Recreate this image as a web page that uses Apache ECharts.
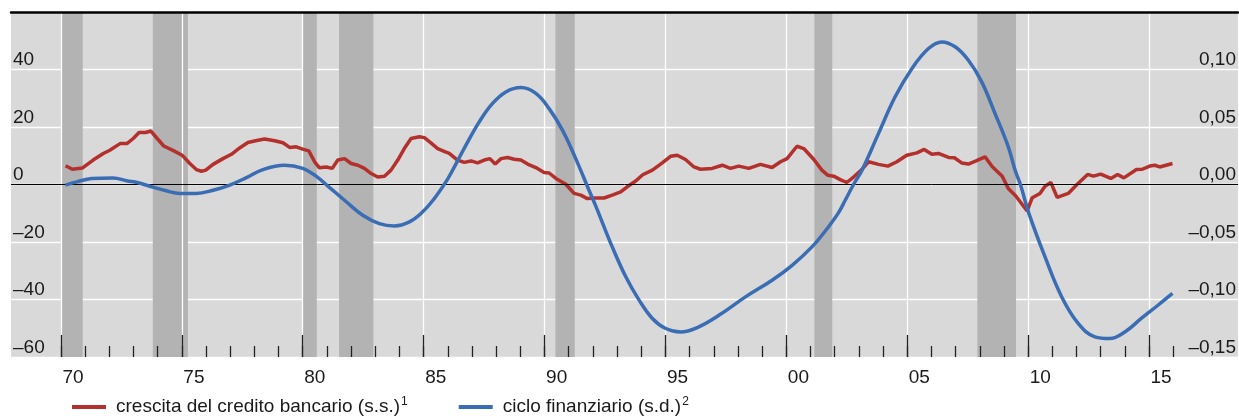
<!DOCTYPE html>
<html>
<head>
<meta charset="utf-8">
<script src="https://cdn.jsdelivr.net/npm/echarts@6/dist/echarts.min.js"></script>
<style>
  html, body { margin: 0; padding: 0; background: #ffffff; }
  #chart { width: 1239px; height: 416px; }
</style>
</head>
<body>
<div id="chart"></div>
<script>
// Bank credit growth (left scale, per cent) – decimal year / value
const creditYears = [
  1970.19, 1970.47, 1970.88, 1971.33, 1971.75, 1972.02, 1972.46, 1972.74, 1972.99, 1973.23,
  1973.50, 1973.72, 1973.98, 1974.25, 1974.67, 1975.01, 1975.33, 1975.60, 1975.81, 1975.99,
  1976.29, 1976.70, 1977.05, 1977.39, 1977.73, 1978.10, 1978.42, 1978.84, 1979.18, 1979.46,
  1979.73, 1980.00, 1980.25, 1980.49, 1980.69, 1980.97, 1981.22, 1981.45, 1981.73, 1982.00,
  1982.28, 1982.55, 1982.83, 1983.10, 1983.38, 1983.65, 1983.93, 1984.20, 1984.48, 1984.82,
  1985.03, 1985.30, 1985.58, 1985.92, 1986.06, 1986.40, 1986.68, 1986.96, 1987.23, 1987.51,
  1987.74, 1987.96, 1988.20, 1988.47, 1988.75, 1989.02, 1989.30, 1989.64, 1989.98, 1990.19,
  1990.47, 1990.88, 1991.22, 1991.50, 1991.77, 1992.12, 1992.46, 1992.80, 1993.15, 1993.42,
  1993.77, 1994.06, 1994.46, 1994.87, 1995.21, 1995.49, 1995.83, 1996.18, 1996.45, 1996.93,
  1997.35, 1997.69, 1998.03, 1998.45, 1998.93, 1999.41, 1999.76, 2000.03, 2000.44, 2000.72,
  2001.13, 2001.47, 2001.72, 2001.96, 2002.23, 2002.50, 2002.78, 2003.10, 2003.40, 2003.81,
  2004.20, 2004.57, 2004.98, 2005.40, 2005.70, 2006.02, 2006.29, 2006.71, 2006.95, 2007.25,
  2007.53, 2007.87, 2008.22, 2008.52, 2008.93, 2009.18, 2009.49, 2009.96, 2010.17, 2010.49,
  2010.70, 2010.94, 2011.20, 2011.66, 2012.00, 2012.46, 2012.70, 2013.00, 2013.42, 2013.70,
  2013.96, 2014.48, 2014.72, 2015.03, 2015.24, 2015.44, 2015.97
];
const creditGrowth = [
  6.5, 5.3, 5.7, 8.5, 10.8, 11.9, 14.3, 14.3, 16.0, 18.1,
  18.1, 18.6, 16.0, 13.4, 11.7, 10.2, 7.3, 5.2, 4.6, 5.0,
  7.0, 9.0, 10.5, 12.7, 14.6, 15.3, 15.8, 15.2, 14.5, 12.9,
  13.1, 12.3, 11.7, 7.9, 5.8, 6.1, 5.6, 8.5, 9.0, 7.3,
  6.7, 5.6, 3.8, 2.6, 2.9, 5.0, 8.5, 12.5, 16.0, 16.6,
  16.3, 14.5, 12.5, 11.3, 10.8, 8.5, 7.7, 8.2, 7.5, 8.5,
  9.0, 7.1, 9.0, 9.4, 8.8, 8.5, 7.1, 5.9, 4.2, 4.0,
  2.1, 0.1, -3.1, -3.7, -4.9, -4.7, -4.7, -3.7, -2.6, -0.8,
  1.2, 3.4, 5.0, 7.5, 9.8, 10.2, 8.7, 6.1, 5.3, 5.6,
  6.7, 5.6, 6.4, 5.6, 7.0, 5.9, 7.9, 9.0, 13.3, 12.5,
  8.8, 5.0, 3.2, 2.9, 1.7, 0.7, 2.6, 5.0, 7.9, 7.0,
  6.4, 7.9, 10.2, 11.0, 12.2, 10.5, 10.8, 9.4, 9.3, 7.5,
  7.1, 8.3, 9.6, 6.2, 2.9, -1.4, -4.0, -9.2, -4.6, -3.1,
  -0.6, 0.7, -4.5, -3.1, -0.2, 3.5, 2.9, 3.6, 2.1, 3.5,
  2.3, 5.2, 5.3, 6.4, 6.7, 6.1, 7.3
];

// Financial cycle (right scale) – decimal year / value
const cycleYears = [
  1970.19, 1970.65, 1971.27, 1972.16, 1972.71, 1973.19, 1973.67, 1974.36, 1974.91, 1975.60,
  1976.29, 1976.98, 1977.67, 1978.35, 1979.25, 1980.00, 1980.55, 1981.10, 1981.80, 1982.48,
  1983.17, 1983.79, 1984.41, 1984.96, 1985.44, 1985.92, 1986.20, 1986.75, 1987.30, 1987.85,
  1988.40, 1989.02, 1989.64, 1990.19, 1990.74, 1991.29, 1991.84, 1992.12, 1992.80, 1993.36,
  1993.91, 1994.46, 1995.01, 1995.63, 1996.38, 1997.21, 1998.31, 1999.41, 2000.24, 2001.06,
  2001.70, 2002.16, 2002.44, 2002.78, 2003.13, 2003.81, 2004.50, 2005.19, 2005.88, 2006.43,
  2006.98, 2007.53, 2008.08, 2008.63, 2009.18, 2009.46, 2009.70, 2010.01, 2010.70, 2011.39,
  2012.07, 2012.76, 2013.38, 2014.00, 2014.68, 2015.37, 2015.97
];
const cycleValues = [
  -0.0005, 0.00225, 0.00525, 0.00575, 0.00325, 0.0015, -0.0015, -0.0055, -0.00775, -0.00775,
  -0.005, -0.0005, 0.006, 0.013, 0.01675, 0.014, 0.00725, -0.0025, -0.015, -0.02675,
  -0.034, -0.036, -0.0325, -0.02375, -0.01225, 0.00225, 0.0125, 0.03425, 0.0545, 0.0705,
  0.0805, 0.08425, 0.07925, 0.066, 0.04725, 0.0225, -0.005, -0.01875, -0.05425, -0.08025,
  -0.1005, -0.1165, -0.12525, -0.12825, -0.12375, -0.11375, -0.09775, -0.08325, -0.07025, -0.05425,
  -0.038, -0.0245, -0.0135, 0.0, 0.0125, 0.04425, 0.07625, 0.10075, 0.11825, 0.124,
  0.11975, 0.108, 0.08925, 0.06175, 0.03275, 0.0125, -0.00125, -0.02375, -0.063, -0.09775,
  -0.12075, -0.1325, -0.134, -0.12825, -0.1165, -0.105, -0.09475
];

// Recession periods shaded in darker grey
const recessionStart = [1970.0, 1973.8, 1980.0, 1981.5, 1990.45, 2001.16, 2007.9];
const recessionEnd   = [1970.9, 1975.25, 1980.58, 1982.92, 1991.25, 2001.9, 2009.5];

// Axis ticks and labels
const majorTickYears = [1970, 1975, 1980, 1985, 1990, 1995, 2000, 2005, 2010, 2015];
const minorTickYears = [];
for (let y = 1970; y <= 2016; y++) minorTickYears.push(y);
const yearLabels = ['70', '75', '80', '85', '90', '95', '00', '05', '10', '15'];

const legendNames = ['crescita del credito bancario (s.s.)', 'ciclo finanziario (s.d.)'];
const legendNotes = ['1', '2'];

const X_MIN = 1967.934;
const X_MAX = 2018.68;
const FONT = '"Liberation Sans", Arial, Helvetica, sans-serif';
const TEXT = '#1a1a1a';

function zip(xs, ys) { return xs.map((x, i) => [x, ys[i]]); }
function dash(v) { return v < 0 ? '\u2013' : ''; }

const chart = echarts.init(document.getElementById('chart'), null, { renderer: 'canvas' });

const xCommon = { type: 'value', min: X_MIN, max: X_MAX, gridIndex: 0 };

chart.setOption({
  animation: false,
  backgroundColor: '#ffffff',
  textStyle: { fontFamily: FONT },
  grid: {
    left: 11, right: 0, top: 12, bottom: 59,
    show: true, backgroundColor: '#d9d9d9', borderWidth: 0
  },
  legend: {
    left: 67, top: 391,
    itemWidth: 34, itemHeight: 4, itemGap: 51,
    icon: 'rect',
    data: legendNames,
    formatter: function (name) {
      const i = legendNames.indexOf(name);
      return '{t|' + name + '}{s|' + legendNotes[i] + '}';
    },
    textStyle: {
      fontFamily: FONT,
      rich: {
        t: { fontFamily: FONT, fontSize: 19, color: TEXT, lineHeight: 22, padding: [0, 0, 0, 5] },
        s: { fontFamily: FONT, fontSize: 12, color: TEXT, lineHeight: 22, verticalAlign: 'top', padding: [0, 0, 0, 1] }
      }
    }
  },
  xAxis: [
    Object.assign({}, xCommon, {
      position: 'bottom',
      z: 3,
      axisLine: { show: false, onZero: false },
      axisTick: {
        show: true, inside: true, length: 22,
        customValues: majorTickYears,
        lineStyle: { color: '#222222', width: 1.3 }
      },
      splitLine: { show: true, lineStyle: { color: '#ffffff', width: 1.3 } },
      axisLabel: {
        show: true, margin: 11,
        customValues: majorTickYears.map(y => y + 0.5),
        formatter: function (v) { return yearLabels[majorTickYears.indexOf(Math.round(v - 0.5))]; },
        fontFamily: FONT, fontSize: 19, color: TEXT
      }
    }),
    Object.assign({}, xCommon, {
      position: 'bottom',
      z: 3,
      axisLine: { show: false, onZero: false },
      axisTick: {
        show: true, inside: true, length: 11,
        customValues: minorTickYears,
        lineStyle: { color: '#222222', width: 1.3 }
      },
      splitLine: { show: false },
      axisLabel: { show: false }
    }),
    Object.assign({}, xCommon, {
      position: 'top',
      z: 3,
      axisLine: { show: true, onZero: false, lineStyle: { color: '#000000', width: 2.5 } },
      axisTick: { show: false },
      splitLine: { show: false },
      axisLabel: { show: false }
    })
  ],
  yAxis: [
    {
      type: 'value', min: -60, max: 60, interval: 20, position: 'left',
      axisLine: { show: false, onZero: false }, axisTick: { show: false },
      splitLine: { show: true, lineStyle: { color: '#ffffff', width: 1.3 } },
      axisLabel: {
        inside: true, margin: 2, verticalAlign: 'bottom',
        fontFamily: FONT, fontSize: 19, color: TEXT,
        formatter: function (v) { return v >= 60 ? '' : dash(v) + Math.abs(v); }
      }
    },
    {
      type: 'value', min: -0.15, max: 0.15, interval: 0.05, position: 'right',
      axisLine: { show: false, onZero: false }, axisTick: { show: false },
      splitLine: { show: false },
      axisLabel: {
        inside: true, margin: 2, verticalAlign: 'bottom',
        fontFamily: FONT, fontSize: 19, color: TEXT,
        formatter: function (v) {
          if (v >= 0.149) return '';
          return dash(v) + Math.abs(v).toFixed(2).replace('.', ',');
        }
      }
    }
  ],
  series: [
    {
      name: 'recessioni',
      type: 'line',
      xAxisIndex: 0, yAxisIndex: 0,
      data: [],
      z: 2,
      silent: true,
      markArea: {
        silent: true,
        itemStyle: { color: '#b3b3b3' },
        data: recessionStart.map((s, i) => [{ xAxis: s }, { xAxis: recessionEnd[i] }])
      }
    },
    {
      name: legendNames[0],
      type: 'line',
      xAxisIndex: 0, yAxisIndex: 0,
      data: zip(creditYears, creditGrowth),
      z: 4,
      showSymbol: false,
      lineStyle: { color: '#b3302c', width: 3.5 },
      itemStyle: { color: '#b3302c' },
      markLine: {
        silent: true, symbol: 'none',
        label: { show: false },
        lineStyle: { color: '#000000', width: 1, type: 'solid' },
        data: [{ yAxis: 0 }]
      }
    },
    {
      name: legendNames[1],
      type: 'line',
      xAxisIndex: 0, yAxisIndex: 1,
      data: zip(cycleYears, cycleValues),
      z: 5,
      smooth: 0.4,
      showSymbol: false,
      lineStyle: { color: '#3a6db3', width: 3.5 },
      itemStyle: { color: '#3a6db3' }
    }
  ]
});
</script>
</body>
</html>
